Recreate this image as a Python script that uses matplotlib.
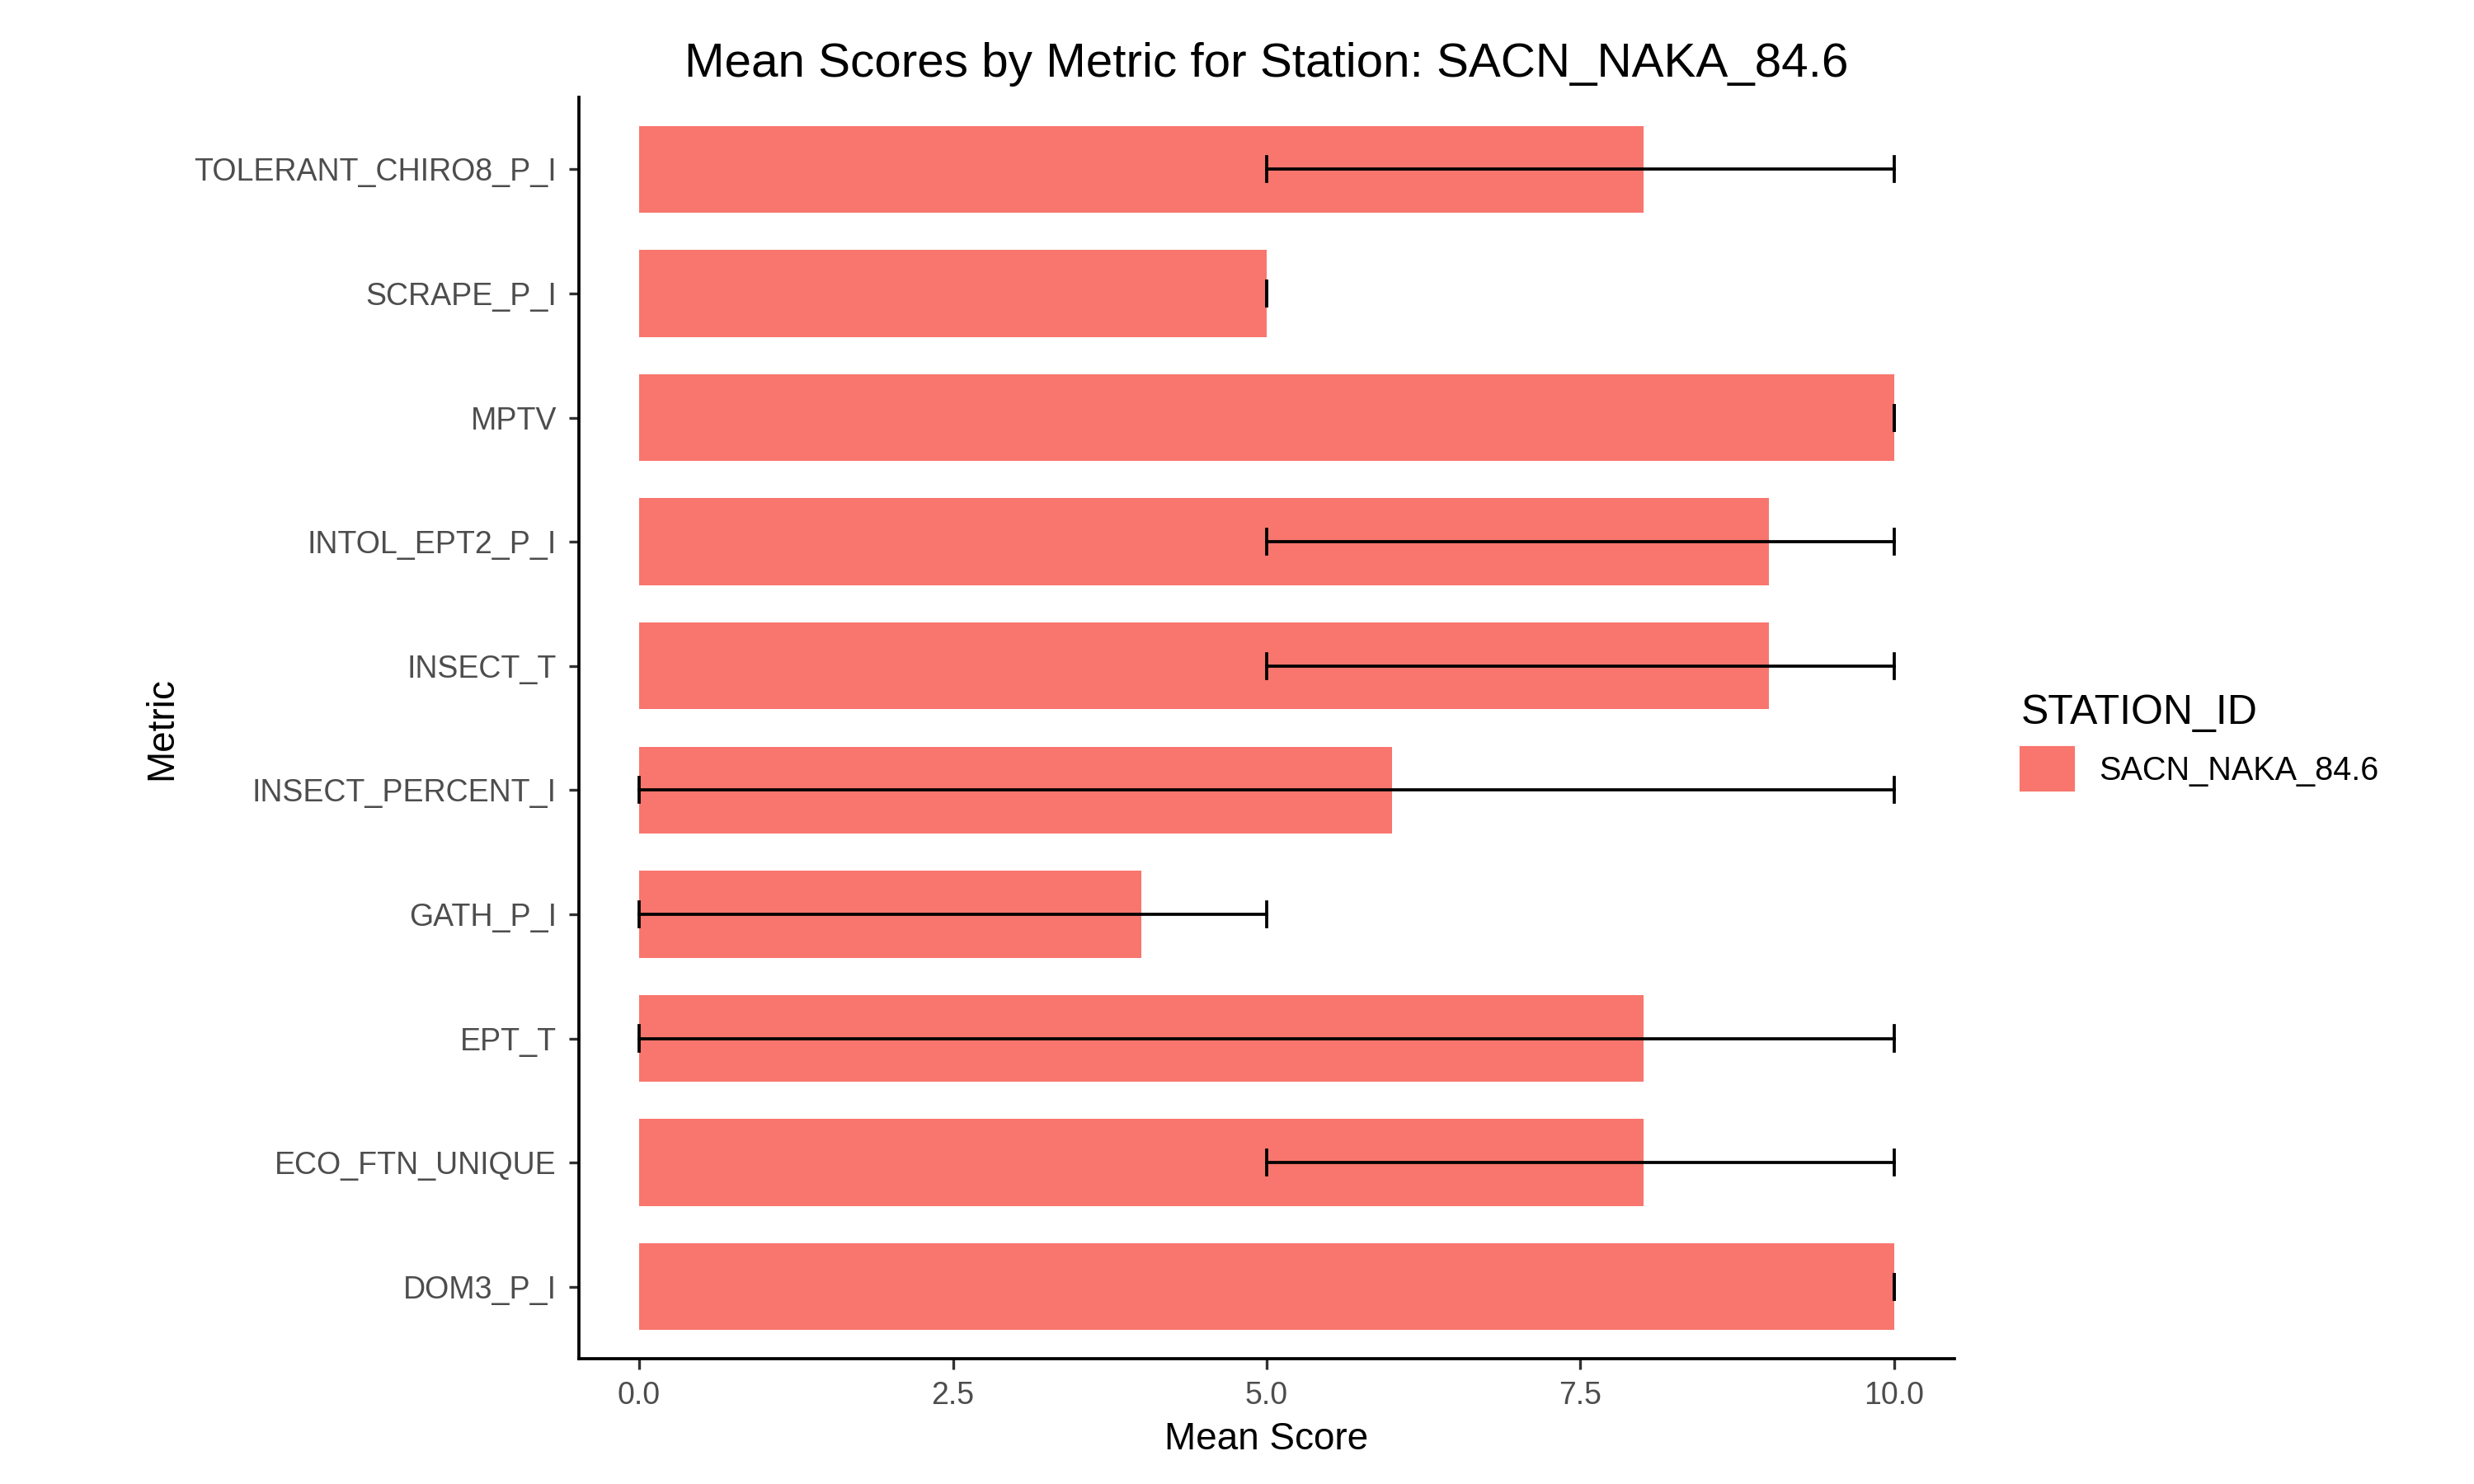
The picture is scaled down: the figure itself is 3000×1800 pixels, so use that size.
import matplotlib
matplotlib.use("Agg")
import matplotlib.pyplot as plt
from matplotlib.patches import Patch

plt.rcParams['font.family'] = ['Liberation Sans', 'DejaVu Sans']

metrics = ["DOM3_P_I", "ECO_FTN_UNIQUE", "EPT_T", "GATH_P_I", "INSECT_PERCENT_I",
           "INSECT_T", "INTOL_EPT2_P_I", "MPTV", "SCRAPE_P_I", "TOLERANT_CHIRO8_P_I"]
means = [10, 8, 8, 4, 6, 9, 9, 10, 5, 8]
lows = [10, 5, 0, 0, 0, 5, 5, 10, 5, 5]
highs = [10, 10, 10, 5, 10, 10, 10, 10, 5, 10]

fig = plt.figure(figsize=(10, 6), dpi=300)
ax = fig.add_axes([0.234, 0.0844, 0.556, 0.85])

pos = list(range(len(metrics)))
ax.barh(pos, means, height=0.7, color="#F8766D")
for p, lo, hi in zip(pos, lows, highs):
    ax.plot([lo, hi], [p, p], color="black", lw=0.9)
    for x in (lo, hi):
        ax.plot([x, x], [p - 0.1, p + 0.1], color="black", lw=0.9)

ax.set_yticks(pos)
ax.set_yticklabels(metrics)
ax.set_xticks([0, 2.5, 5, 7.5, 10])
ax.set_xticklabels(["0.0", "2.5", "5.0", "7.5", "10.0"])
ax.set_xlim(-0.48, 10.48)
ax.set_ylim(-0.58, 9.58)
ax.tick_params(labelsize=9, colors="#4D4D4D", length=3, width=0.8)
ax.tick_params(axis="both", color="#333333")
for s in ("top", "right"):
    ax.spines[s].set_visible(False)
for s in ("left", "bottom"):
    ax.spines[s].set_linewidth(0.9)

ax.set_xlabel("Mean Score", fontsize=11, labelpad=3)
ax.set_ylabel("Metric", fontsize=11)
ax.set_title("Mean Scores by Metric for Station: SACN_NAKA_84.6", fontsize=14, loc="center", pad=6)

leg = fig.legend(handles=[Patch(color="#F8766D", label="SACN_NAKA_84.6")],
                 title="STATION_ID", loc="center left", bbox_to_anchor=(0.805, 0.5),
                 frameon=False, fontsize=9.5, title_fontsize=12,
                 handlelength=1.6, handleheight=1.6)
leg._legend_box.align = "left"

fig.savefig("out.png", dpi=300)
